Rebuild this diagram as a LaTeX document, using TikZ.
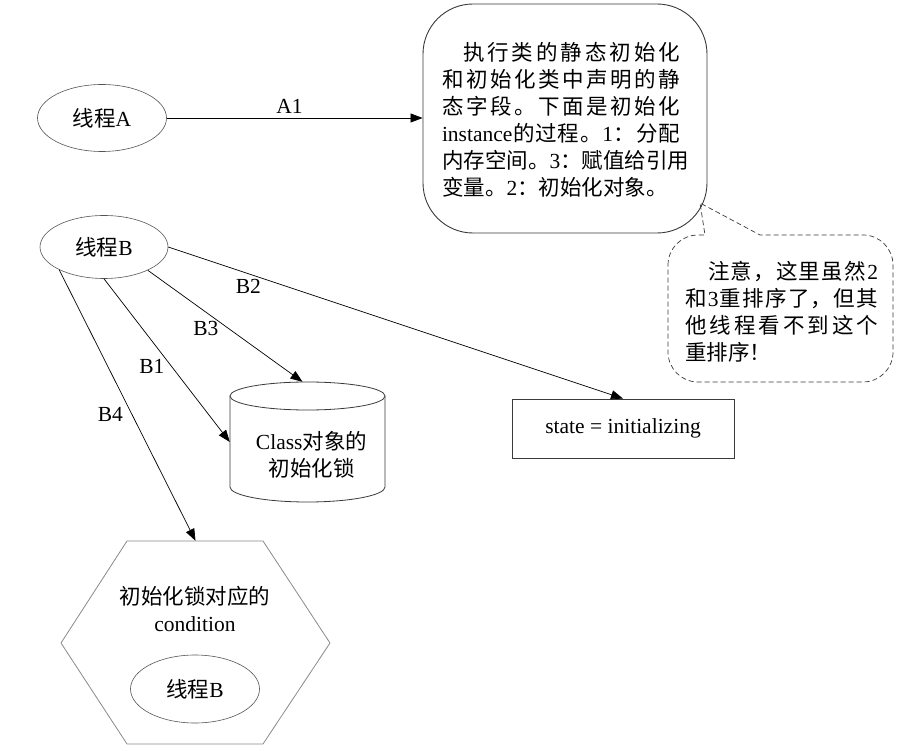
\documentclass[tikz,border=0pt]{standalone}
\usepackage{fontspec}
\setmainfont{Liberation Serif}
\newfontfamily\cjk{Noto Sans CJK SC}
\usetikzlibrary{arrows.meta,shapes.geometric}
\newcommand\jl[2]{\makebox[#1pt][s]{\spaceskip=0pt plus 1fil\xspaceskip=0pt plus 1fil\relax #2}}
\definecolor{ellcol}{HTML}{555555}
\definecolor{boxcol}{HTML}{3A3A3A}
\definecolor{hexcol}{HTML}{8A8A8A}
\begin{document}
\begin{tikzpicture}[x=1pt,y=1pt,
  txt/.style={font=\fontsize{21.5}{27}\selectfont, inner sep=0pt},
  ell/.style={draw=ellcol, ellipse, inner sep=0pt, line width=0.6pt},
  conn/.style={draw=black, line width=0.7pt, -{Triangle[length=12pt,width=9pt]}},
  lbl/.style={font=\fontsize{21.5}{27}\selectfont, inner sep=0pt},
  shapeline/.style={draw=boxcol, line width=0.8pt},
]
\path[fill=white] (0,0) rectangle (920,750);
\useasboundingbox (0,0) rectangle (920,750);

% thread A
\node[ell, txt, minimum width=129pt, minimum height=67pt] (thA) at (102,632) {{\cjk 线程}A};

% main note
\node[shapeline, line width=0.9pt, rounded corners=50pt, minimum width=284pt, minimum height=229pt, inner sep=0pt] (note) at (565,631.5) {};
\node[txt, align=left] (notetxt) at (561,630) {%
\hspace*{21pt}\jl{217}{{\cjk 执 行 类 的 静 态 初 始 化}}\\
\jl{238}{{\cjk 和 初 始 化 类 中 声 明 的 静}}\\
\jl{238}{{\cjk 态 字 段 。 下 面 是 初 始 化}}\\
\jl{238}{instance {\cjk 的 过 程 。} 1 {\cjk ： 分 配}}\\
\jl{238}{{\cjk 内 存 空 间 。} 3 {\cjk ： 赋 值 给 引 用}}\\
{\cjk 变量。}2{\cjk ：初始化对象。}};

% dashed note
\draw[draw=boxcol, line width=0.7pt, dash pattern=on 5pt off 3pt]
  (668,485) arc[start angle=180, end angle=90, radius=30pt]
  -- (705,515) -- (700,547) -- (760,515) -- (863,515)
  arc[start angle=90, end angle=0, radius=30pt]
  -- (893,398) arc[start angle=0, end angle=-90, radius=30pt]
  -- (698,368) arc[start angle=270, end angle=180, radius=30pt]
  -- cycle;
\node[txt, align=left] (remark) at (781.5,438) {%
\hspace*{23pt}\jl{170}{{\cjk 注 意 ， 这 里 虽 然} 2}\\
\jl{193}{{\cjk 和} 3 {\cjk 重 排 序 了 ， 但 其}}\\
\jl{193}{{\cjk 他 线 程 看 不 到 这 个}}\\
{\cjk 重排序！}};

% thread B
\node[ell, txt, minimum width=128pt, minimum height=63pt] (thB) at (104,503) {{\cjk 线程}B};

% cylinder
\draw[shapeline] (230,354) -- (230,263)
  arc[start angle=180, end angle=360, x radius=77.5pt, y radius=15pt] -- (385,354);
\draw[shapeline] (307.5,354) ellipse[x radius=77.5pt, y radius=14pt];
\node[inner sep=0pt, minimum width=155pt, minimum height=120pt] (cyl) at (307.5,308) {};
\node[txt, align=center] (cyltxt) at (311.5,295) {Class{\cjk 对象的}\\{\cjk 初始化锁}};

% state box
\node[shapeline, txt, minimum width=222pt, minimum height=59pt] (state) at (623,321.5) {state = initializing};

% hexagon
\draw[draw=hexcol, line width=0.8pt] (127,209) -- (263,209) -- (330,107) -- (263,6) -- (127,6) -- (61,107) -- cycle;
\node[inner sep=0pt, minimum width=269pt, minimum height=203pt] (hex) at (195.5,107.5) {};
\node[txt, align=center] (hextxt) at (195,141.5) {{\cjk 初始化锁对应的}\\condition};
\node[ell, txt, minimum width=129pt, minimum height=68pt] (thB2) at (195,61) {{\cjk 线程}B};

% connectors
\draw[conn] (thA.east) -- (thA.east -| note.west) node[lbl, pos=0.48, above=4pt] (lA1) {A1};
\draw[conn] (thB.east) -- (state.north) node[lbl, pos=0.176, yshift=-13pt] (lB2) {B2};
\draw[conn] (thB.332) -- ([xshift=-5pt]cyl.north) node[lbl, pos=0.518, xshift=-22pt] (lB3) {B3};
\draw[conn] (thB.south) -- (cyl.west) node[lbl, pos=0.535, xshift=-19.5pt] (lB1) {B1};
\draw[conn] (thB.207) -- (hex.north) node[lbl, pos=0.533, xshift=-21.5pt] (lB4) {B4};
\end{tikzpicture}
\end{document}
